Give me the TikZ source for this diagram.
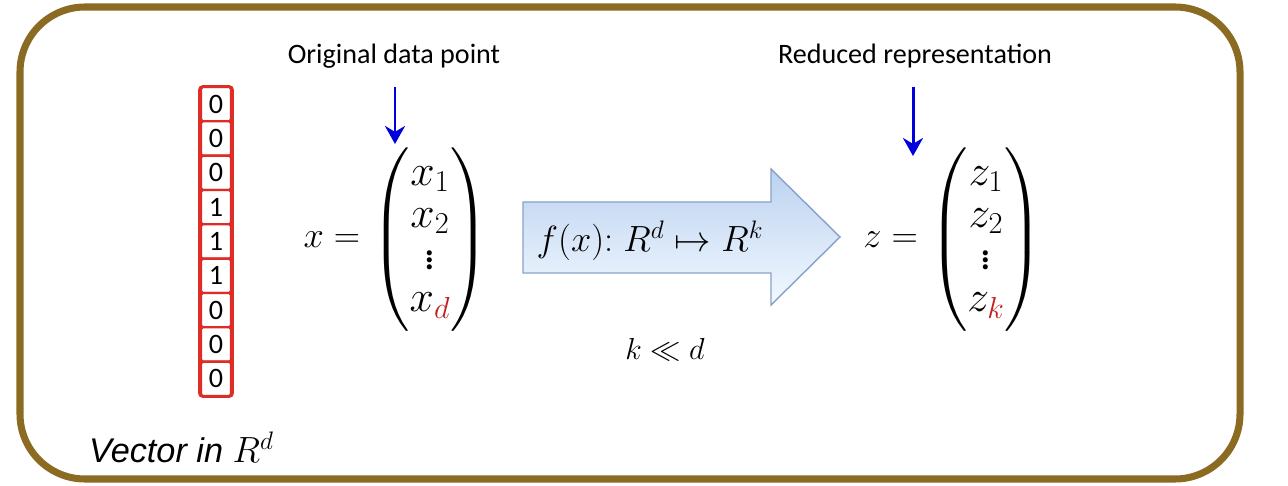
\documentclass[tikz,border=0pt]{standalone}
\usepackage{amsmath}
\usepackage{xcolor}
\usepackage{fontspec}
\setmainfont{Carlito}
\newfontfamily\vecfont{Liberation Sans}
\usetikzlibrary{arrows.meta,positioning}

\definecolor{framebrown}{RGB}{139,106,34}
\definecolor{bitred}{RGB}{222,45,38}
\definecolor{ptblue}{RGB}{0,0,220}
\definecolor{subred}{RGB}{192,32,32}
\definecolor{mapedge}{RGB}{135,162,200}
\definecolor{maptop}{RGB}{188,210,240}
\definecolor{mapbot}{RGB}{242,249,255}

\newcommand{\rd}[1]{\textcolor{subred}{#1}}

\begin{document}
\begin{tikzpicture}[x=0.02cm,y=-0.02cm,>={Stealth[length=3.6mm,width=4mm]},
  bitcell/.style={draw=bitred,line width=1.3pt,rounded corners=1pt,fill=white,
    minimum width=0.6cm,minimum height=0.686cm,inner sep=0pt,font=\fontsize{16}{16}\selectfont},
  caption/.style={font=\fontsize{16}{18}\selectfont},
  pointer/.style={->,ptblue,line width=1.7pt,shorten <=7pt},
  eqn/.style={inner sep=0pt,font=\fontsize{24}{24}\selectfont},
  lhs/.style={inner sep=0pt,font=\fontsize{22}{24}\selectfont}]
  \useasboundingbox (0,0) rectangle (1288,486);
  \draw[framebrown,line width=4pt,rounded corners=1.3cm] (20,7) rectangle (1240,479);

  % bit vector
  \draw[bitred,line width=2pt,rounded corners=1.5pt] (200,87) rectangle (232,396);
  \foreach \b [count=\i] in {0,0,0,1,1,1,0,0,0}
    \node[bitcell] (bit\i) at (216,{87+34.33*(\i-0.5)}) {\b};
  \node[anchor=west,font=\vecfont\itshape\fontsize{19.5}{22}\selectfont] (vlabel) at (83,447)
    {Vector in $R^{d}$};

  % original point
  \node[eqn] (xvec) at (430,240)
    {$\begin{pmatrix} x_1\\ x_2\\ \vdots\\ x_{\rd{d}} \end{pmatrix}$};
  \node[lhs,left=6pt of xvec] (xlhs) {$x =$};
  \node[caption] (orig) at (394,56) {Original data point};
  \coordinate (xtip) at (395,144);
  \draw[pointer] (orig.south -| xtip) -- (xtip);

  % mapping arrow
  \shade[top color=maptop,bottom color=mapbot,draw=mapedge,line width=0.8pt]
    (523,202) -- (771,202) -- (771,169) -- (840,237) -- (771,305) -- (771,273) -- (523,273) -- cycle;
  \node[font=\fontsize{21}{24}\selectfont] (map) at (650,241) {$f(x){:}\;R^{d} \mapsto R^{k}$};
  \node[font=\fontsize{18}{24}\selectfont] (ineq) at (665,350) {$k \ll d$};

  % reduced point
  \node[eqn] (zvec) at (986,240)
    {$\begin{pmatrix} z_1\\ z_2\\ \vdots\\ z_{\rd{k}} \end{pmatrix}$};
  \node[lhs,left=6pt of zvec] (zlhs) {$z =$};
  \node[caption] (red) at (915,56) {Reduced representation};
  \coordinate (ztip) at (913,156);
  \draw[pointer] (red.south -| ztip) -- (ztip);
\end{tikzpicture}
\end{document}
